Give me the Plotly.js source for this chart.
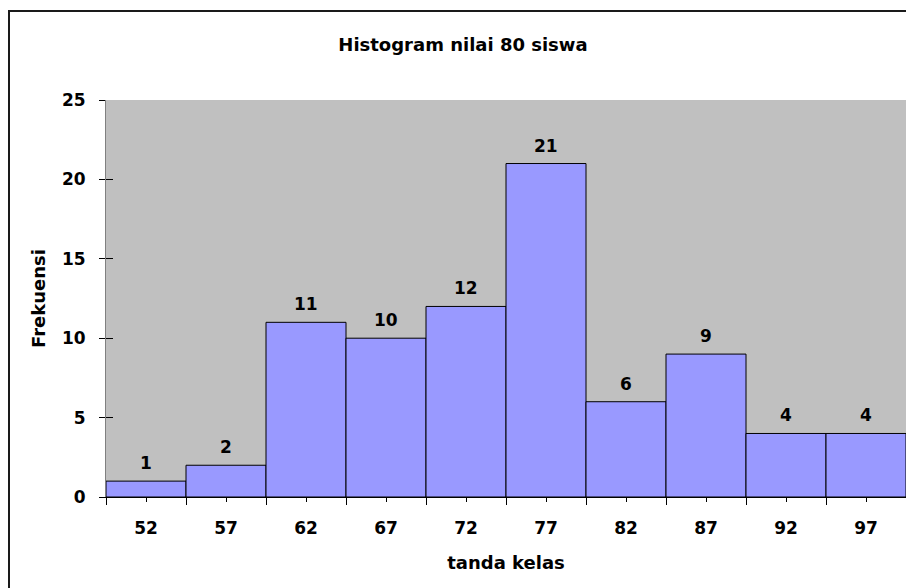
<!DOCTYPE html>
<html>
<head>
<meta charset="utf-8">
<script src="https://cdn.plot.ly/plotly-3.0.1.min.js"></script>
<style>
  html, body { margin: 0; padding: 0; background: #ffffff; overflow: hidden; }
  #frame { position: absolute; left: 8px; top: 10px; width: 1000px; height: 1000px;
           border-left: 2px solid #1a1a1a; border-top: 2px solid #1a1a1a; box-sizing: border-box; }
  #chart { position: absolute; left: 0; top: 0; width: 906px; height: 588px; }
</style>
</head>
<body>
<div id="frame"></div>
<div id="chart"></div>
<script>
// ---- data ----
const classMarks = [52, 57, 62, 67, 72, 77, 82, 87, 92, 97];   // tanda kelas
const frequencies = [1, 2, 11, 10, 12, 21, 6, 9, 4, 4];        // frekuensi
const tickLabels = ["52", "57", "62", "67", "72", "77", "82", "87", "92", "97"];
const classWidth = 5;
const chartTitle = "Histogram nilai 80 siswa";
const xTitle = "tanda kelas";
const yTitle = "Frekuensi";

const boundaries = classMarks.map(m => m - classWidth / 2).concat([classMarks[classMarks.length - 1] + classWidth / 2]);

const FONT = "DejaVu Sans, Arial, sans-serif";

const bars = {
  type: "bar",
  x: classMarks,
  y: frequencies,
  width: classMarks.map(() => classWidth),
  marker: { color: "#9999FF", line: { color: "#000000", width: 1 } },
  hoverinfo: "x+y",
  showlegend: false
};

// invisible trace so the overlaying axis (inner half of the crossing y ticks) is drawn
const crossTicks = {
  type: "scatter",
  x: classMarks,
  y: frequencies,
  yaxis: "y2",
  mode: "none",
  hoverinfo: "skip",
  showlegend: false
};

const labels = classMarks.map((m, i) => ({
  x: m,
  y: frequencies[i],
  xref: "x",
  yref: "y",
  text: String(frequencies[i]),
  showarrow: false,
  yanchor: "bottom",
  yshift: 6,
  font: { family: FONT, size: 17, color: "#000000", weight: "bold" }
}));

const layout = {
  width: 906,
  height: 588,
  margin: { l: 106, r: 0, t: 100, b: 91 },
  paper_bgcolor: "rgba(0,0,0,0)",
  plot_bgcolor: "#C0C0C0",
  font: { family: FONT, color: "#000000" },
  title: {
    text: chartTitle,
    font: { family: FONT, size: 18, color: "#000000", weight: "bold" },
    xref: "container", x: 0.511, xanchor: "center",
    yref: "container", y: 1 - 45 / 588, yanchor: "middle"
  },
  bargap: 0,
  xaxis: {
    type: "linear",
    range: [boundaries[0], boundaries[boundaries.length - 1]],
    tickmode: "array",
    tickvals: classMarks,
    ticktext: tickLabels,
    ticks: "outside",
    ticklen: 4,
    tickwidth: 1,
    tickcolor: "#000000",
    ticklabelstandoff: 12,
    tickfont: { family: FONT, size: 17, color: "#000000", weight: "bold" },
    showline: true,
    linecolor: "#000000",
    linewidth: 1,
    showgrid: false,
    zeroline: false,
    fixedrange: true,
    minor: {
      tickmode: "array",
      tickvals: boundaries,
      ticks: "outside",
      ticklen: 7,
      tickwidth: 1,
      tickcolor: "#000000",
      showgrid: false
    },
    title: {
      text: xTitle,
      font: { family: FONT, size: 18, color: "#000000", weight: "bold" },
      standoff: 18
    }
  },
  yaxis: {
    range: [0, 25],
    tickmode: "linear",
    tick0: 0,
    dtick: 5,
    ticks: "outside",
    ticklen: 6,
    tickwidth: 1,
    tickcolor: "#000000",
    ticklabelstandoff: 10,
    tickfont: { family: FONT, size: 17, color: "#000000", weight: "bold" },
    showline: true,
    linecolor: "#808080",
    linewidth: 1,
    showgrid: false,
    zeroline: false,
    fixedrange: true,
    title: {
      text: yTitle,
      font: { family: FONT, size: 18, color: "#000000", weight: "bold" },
      standoff: 11
    }
  },
  yaxis2: {
    overlaying: "y",
    anchor: "x",
    side: "left",
    range: [0, 25],
    tickmode: "linear",
    tick0: 0,
    dtick: 5,
    ticks: "inside",
    ticklen: 7,
    tickwidth: 1,
    tickcolor: "#000000",
    showticklabels: false,
    showline: false,
    showgrid: false,
    zeroline: false,
    fixedrange: true
  },
  annotations: labels,
  showlegend: false
};

Plotly.newPlot("chart", [bars, crossTicks], layout, { displayModeBar: false, staticPlot: true });
</script>
</body>
</html>
